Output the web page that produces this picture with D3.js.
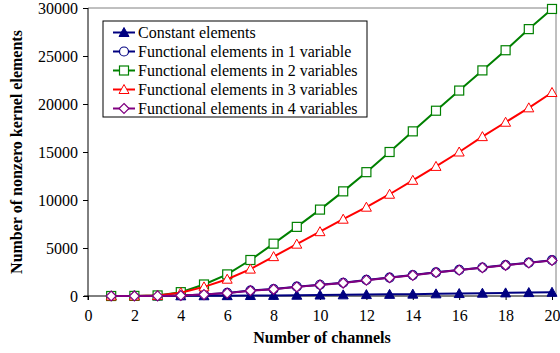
<!DOCTYPE html>
<html lang="en">
<head>
  <meta charset="UTF-8">
  <title>Nonzero kernel elements</title>
  <script src="https://d3js.org/d3.v7.min.js"></script>
  <style>
    body { margin: 0; background: #fff; }
    #chart { width: 560px; height: 353px; }
  </style>
</head>
<body>
  <div id="chart"></div>
  <script>
    // values
    const channels = d3.range(1, 21);
    const constantEl = [0, 5, 10, 20, 25, 35, 50, 65, 80, 100, 120, 145, 170, 195, 225, 255, 290, 325, 355, 385];
    const oneVar   = [0, 5, 15, 60, 160, 320, 570, 720, 970, 1170, 1380, 1670, 1920, 2180, 2470, 2720, 2970, 3220, 3470, 3730];
    const twoVar   = [0, 10, 60, 400, 1200, 2250, 3750, 5450, 7200, 9000, 10900, 12900, 15000, 17150, 19300, 21400, 23500, 25600, 27800, 29900];
    const threeVar = [0, 5, 50, 350, 950, 1750, 2800, 4100, 5400, 6700, 8000, 9250, 10600, 12050, 13500, 15000, 16600, 18100, 19600, 21200];
    const fourVar  = [0, 5, 10, 50, 150, 300, 550, 700, 950, 1150, 1350, 1650, 1900, 2150, 2450, 2700, 2950, 3200, 3450, 3700];
    const seriesNames = ["Constant elements", "Functional elements in 1 variable",
      "Functional elements in 2 variables", "Functional elements in 3 variables",
      "Functional elements in 4 variables"];
    const xTicks = d3.range(0, 21, 2);
    const yTicks = d3.range(0, 30001, 5000);

    const series = [
      { name: seriesNames[0], values: constantEl, color: "#000080", marker: "triFill" },
      { name: seriesNames[1], values: oneVar, color: "#000080", marker: "circle" },
      { name: seriesNames[2], values: twoVar, color: "#008000", marker: "square" },
      { name: seriesNames[3], values: threeVar, color: "#ff0000", marker: "triangle" },
      { name: seriesNames[4], values: fourVar, color: "#800080", marker: "diamond" }
    ];

    const FONT = "'Liberation Serif', 'Times New Roman', serif";
    const width = 560, height = 353;
    const pLeft = 88, pRight = 556, pTop = 8, pBottom = 296;

    const svg = d3.select("#chart").append("svg")
      .attr("width", width).attr("height", height);

    const x = d3.scaleLinear().domain([0, 20]).range([pLeft, 552]);
    const y = d3.scaleLinear().domain([0, 30000]).range([pBottom, pTop]);

    // plot area border (top / right grey)
    svg.append("path")
      .attr("d", `M${pLeft},${pTop}H${pRight}V${pBottom}`)
      .attr("fill", "none").attr("stroke", "#808080").attr("stroke-width", 1);

    const yAxis = svg.append("g")
      .attr("transform", `translate(${pLeft},0)`)
      .call(d3.axisLeft(y).tickValues(yTicks).tickSize(5).tickPadding(5).tickFormat(d3.format("d")));
    yAxis.select(".domain").attr("d", `M0,${pTop}V${pBottom + 4}`);

    const xAxis = svg.append("g")
      .attr("transform", `translate(0,${pBottom})`)
      .call(d3.axisBottom(x).tickValues(xTicks).tickSize(4).tickPadding(10));
    xAxis.select(".domain").attr("d", `M${pLeft - 4},0H${pRight}`);

    svg.selectAll("g").attr("font-family", FONT).attr("font-size", 16);
    svg.selectAll(".tick text").attr("fill", "#000");
    svg.selectAll(".domain, .tick line").attr("stroke", "#000");

    // axis titles
    svg.append("text")
      .attr("x", (pLeft + pRight) / 2).attr("y", 343)
      .attr("text-anchor", "middle")
      .attr("font-family", FONT).attr("font-size", 16).attr("font-weight", "bold")
      .text("Number of channels");
    svg.append("text")
      .attr("transform", `translate(22,${(pTop + pBottom) / 2}) rotate(-90)`)
      .attr("text-anchor", "middle")
      .attr("font-family", FONT).attr("font-size", 16).attr("font-weight", "bold")
      .text("Number of nonzero kernel elements");

    function drawMarker(g, kind, color) {
      if (kind === "triFill" || kind === "triangle") {
        g.append("path").attr("d", "M0,-5L5,4L-5,4Z")
          .attr("fill", kind === "triFill" ? color : "#fff")
          .attr("stroke", color).attr("stroke-width", 1);
      } else if (kind === "circle") {
        g.append("circle").attr("r", 4.5)
          .attr("fill", "#fff").attr("stroke", color).attr("stroke-width", 1.2);
      } else if (kind === "square") {
        g.append("rect").attr("x", -4.5).attr("y", -4.5).attr("width", 9).attr("height", 9)
          .attr("fill", "#fff").attr("stroke", color).attr("stroke-width", 1.2);
      } else if (kind === "diamond") {
        g.append("path").attr("d", "M0,-5L5,0L0,5L-5,0Z")
          .attr("fill", "#fff").attr("stroke", color).attr("stroke-width", 1.2);
      }
    }

    const line = d3.line().x((d, i) => x(channels[i])).y(d => y(d));

    series.forEach(s => {
      svg.append("path").datum(s.values)
        .attr("fill", "none").attr("stroke", s.color).attr("stroke-width", 2)
        .attr("d", line);
      s.values.forEach((v, i) => {
        const g = svg.append("g").attr("transform", `translate(${x(channels[i])},${y(v)})`);
        drawMarker(g, s.marker, s.color);
      });
    });

    // legend
    const legend = svg.append("g");
    legend.append("rect")
      .attr("x", 103).attr("y", 21).attr("width", 264).attr("height", 96)
      .attr("fill", "#fff").attr("stroke", "#000").attr("stroke-width", 1);
    series.forEach((s, i) => {
      const cy = 32.5 + i * 19;
      legend.append("line")
        .attr("x1", 113).attr("x2", 135).attr("y1", cy).attr("y2", cy)
        .attr("stroke", s.color).attr("stroke-width", 2);
      drawMarker(legend.append("g").attr("transform", `translate(124,${cy})`), s.marker, s.color);
      legend.append("text")
        .attr("x", 138).attr("y", cy + 5)
        .attr("font-family", FONT).attr("font-size", 16)
        .text(s.name);
    });
  </script>
</body>
</html>
